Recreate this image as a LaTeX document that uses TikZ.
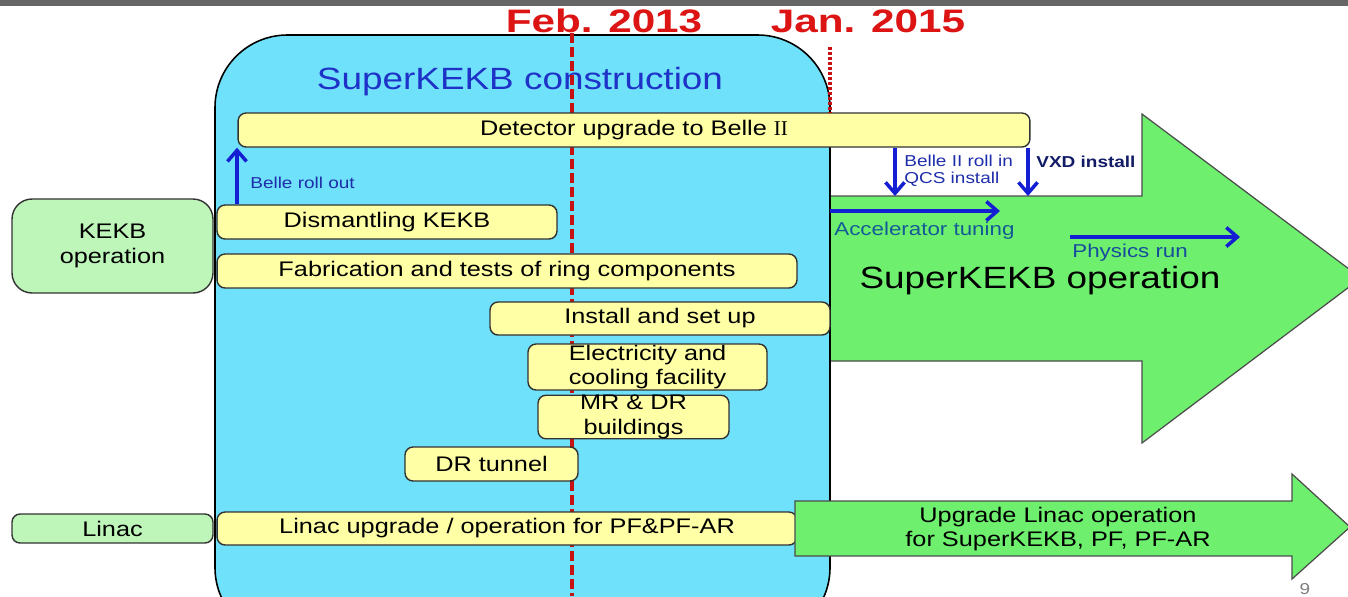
\documentclass[tikz,border=0pt]{standalone}
\usepackage{fontspec}
\setmainfont[FakeStretch=1.2]{Liberation Sans}
\newfontfamily\datefont[FakeStretch=1.3]{Liberation Sans}
\newfontfamily\romfont{Liberation Serif}
\usetikzlibrary{arrows.meta,positioning}
\definecolor{boxyellow}{RGB}{255,255,165}
\definecolor{boxgreen}{RGB}{190,245,185}
\definecolor{opgreen}{RGB}{110,240,110}
\definecolor{skyfill}{RGB}{112,225,250}
\definecolor{arrblue}{RGB}{20,30,210}
\definecolor{labblue}{RGB}{30,45,170}
\definecolor{accblue}{RGB}{20,90,150}
\definecolor{conblue}{RGB}{30,50,200}
\definecolor{datered}{RGB}{220,20,20}

\begin{document}
\begin{tikzpicture}[x=0.02cm,y=-0.02cm,
  ybox/.style={draw=black!80,rounded corners=0.16cm,fill=boxyellow,line width=0.8pt,align=center,inner sep=0pt,font=\fontsize{12}{14}\selectfont},
  gbox/.style={ybox,fill=boxgreen,rounded corners=0.4cm},
  bigarrow/.style={draw=black!70,fill=opgreen,line width=0.7pt},
  barr/.style={-{Straight Barb[length=2.2mm,width=3.8mm,line width=2pt]},line width=2pt,draw=arrblue},
  lab/.style={anchor=west,inner sep=0pt,align=left,text=labblue,font=\fontsize{9}{9.7}\selectfont},
  date/.style={text=datered,font=\datefont\bfseries\fontsize{18.5}{20}\selectfont},
  title/.style={font=\fontsize{17.5}{20}\selectfont}]
\useasboundingbox (0,0) rectangle (1348,596);
\clip (0,0) rectangle (1348,596);
\fill[black!60] (0,0) rectangle (1348,6);
\draw[bigarrow] (815,196) -- (1142,196) -- (1142,114) -- (1361,278) -- (1142,443) -- (1142,361) -- (815,361) -- cycle;
\draw[fill=skyfill,line width=0.9pt,rounded corners=1.45cm] (215,35) rectangle (830,640);
\node[title,text=conblue] (con) at (520,82) {SuperKEKB construction};
\node[date] (feb) at (604,21) {Feb. 2013};
\node[date] (jan) at (868,21) {Jan. 2015};
\coordinate (febtop) at (572,33);
\coordinate (febbot) at (572,596);
\coordinate (janx) at (830,47);
\draw[draw=datered!90!black,line width=2.3pt,dash pattern=on 0.2cm off 0.08cm] (febtop) -- (febbot);
\node[ybox,minimum width=15.84cm,minimum height=0.68cm] (det) at (634,130) {Detector upgrade to Belle {\romfont II}};
\draw[draw=datered!90!black,line width=2pt,dash pattern=on 0.06cm off 0.04cm] (janx) -- (det.north -| janx);
\node[ybox,minimum width=6.8cm,minimum height=0.68cm] (dism) at (387,222) {Dismantling KEKB};
\node[ybox,minimum width=11.6cm,minimum height=0.68cm] (fab) at (507,271) {Fabrication and tests of ring components};
\node[ybox,minimum width=6.8cm,minimum height=0.66cm] (inst) at (660,318.5) {Install and set up};
\node[ybox,minimum width=4.78cm,minimum height=0.92cm] (elec) at (647.5,367) {Electricity and\\cooling facility};
\node[ybox,minimum width=3.82cm,minimum height=0.84cm] (bldg) at (633.5,417) {MR \& DR\\buildings};
\node[ybox,minimum width=3.46cm,minimum height=0.68cm] (tun) at (491.5,464) {DR tunnel};
\node[ybox,minimum width=11.6cm,minimum height=0.66cm] (linup) at (507,528.5) {Linac upgrade / operation for PF\&PF-AR};
\node[gbox,minimum width=4.02cm,minimum height=1.88cm] (kekb) at (112.5,246) {KEKB\\operation};
\node[gbox,rounded corners=0.16cm,minimum width=4.02cm,minimum height=0.58cm] (linac) at (112.5,528.5) {Linac};
\draw[bigarrow] (795,501) -- (1292,501) -- (1292,474) -- (1350,527) -- (1292,579) -- (1292,556) -- (795,556) -- cycle;
\node[align=center,font=\fontsize{12}{13.6}\selectfont] (linop) at (1058,529) {Upgrade Linac operation\\for SuperKEKB, PF, PF-AR};
\coordinate (outx) at (237,0);
\coordinate (inx) at (895,0);
\coordinate (vxdx) at (1028,0);
\coordinate (opT) at (830,196);
\coordinate (acc0) at (830,211);
\coordinate (acc1) at (1000,211);
\coordinate (phy0) at (1070,237);
\coordinate (phy1) at (1240,237);
\draw[barr] (dism.north -| outx) -- (det.south -| outx);
\draw[barr] (det.south -| inx) -- (opT -| inx);
\draw[barr] (det.south -| vxdx) -- (opT -| vxdx);
\draw[barr] (acc0) -- (acc1);
\draw[barr] (phy0) -- (phy1);
\node[lab] (out) at (250,183) {Belle roll out};
\node[lab] (rollin) at (904,171) {Belle II roll in\\QCS install};
\node[lab,text=black!40!labblue,font=\bfseries\fontsize{9}{9.7}\selectfont] (vxd) at (1036,162) {VXD install};
\node[lab,text=accblue,font=\fontsize{10.6}{12}\selectfont] (acc) at (834,231) {Accelerator tuning};
\node[lab,text=accblue!70!labblue,font=\fontsize{10.6}{12}\selectfont] (phy) at (1072,253) {Physics run};
\node[title] (op) at (1040,281) {SuperKEKB operation};
\node[text=black!50,font=\fontsize{9}{10}\selectfont] (page) at (1305,589) {9};
\end{tikzpicture}
\end{document}
